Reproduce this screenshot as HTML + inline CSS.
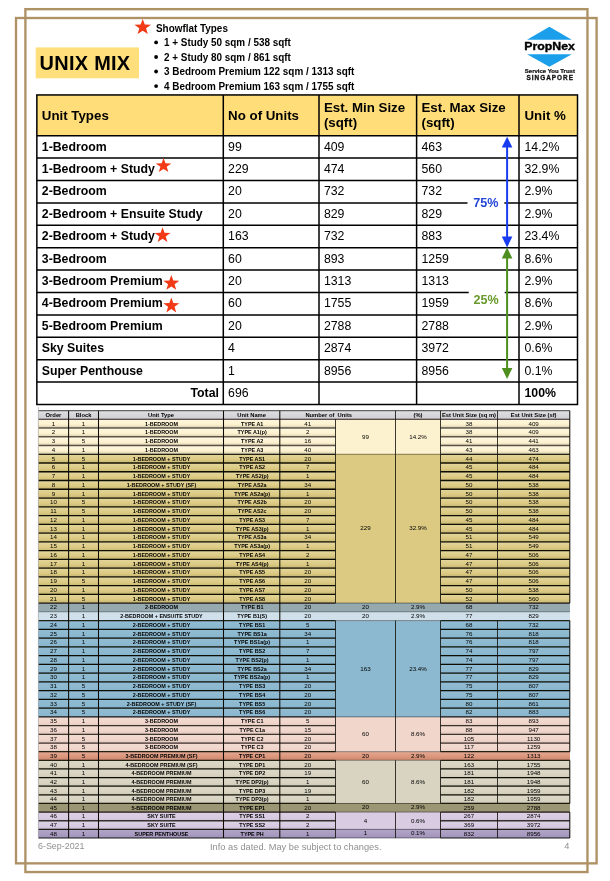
<!DOCTYPE html>
<html lang="en"><head><meta charset="utf-8"><title>Unix Mix</title>
<style>
html,body{margin:0;padding:0;background:#fff;}
body{width:610px;height:881px;position:relative;overflow:hidden;font-family:"Liberation Sans",sans-serif;color:#000;}
.a{position:absolute;white-space:nowrap;}
.fr{position:absolute;box-sizing:border-box;border:2.5px solid #ae9165;}
.b{font-weight:bold;}
.t1{position:absolute;white-space:nowrap;font-size:12.3px;line-height:14px;}
.th{position:absolute;white-space:nowrap;font-size:13.3px;line-height:15.3px;font-weight:bold;}
.bl{position:absolute;white-space:nowrap;font-size:10.5px;line-height:12px;font-weight:bold;transform:scaleX(0.943);transform-origin:0 50%;}
.c{position:absolute;white-space:nowrap;text-align:center;font-size:6.2px;line-height:8.73px;color:#000;}
.cb{font-weight:bold;font-size:5.85px;transform:scaleX(0.925);}
.ch{font-weight:bold;font-size:5.8px;}
.ft{position:absolute;white-space:nowrap;font-size:8.9px;line-height:11px;color:#8f8f8f;}
svg{position:absolute;left:0;top:0;}
</style></head><body>

<svg width="610" height="881" viewBox="0 0 610 881"><rect x="35.7" y="47.4" width="103.3" height="30.9" fill="#ffdf7c"/></svg>
<div class="a b" style="left:39.6px;top:51.3px;font-size:19.9px;letter-spacing:0.3px;line-height:24px">UNIX MIX</div>
<div class="bl" style="left:156.1px;top:21.7px">Showflat Types</div>
<div class="bl" style="left:164.4px;top:36.30px">1 + Study 50 sqm / 538 sqft</div>
<svg width="610" height="881" viewBox="0 0 610 881"><circle cx="156.1" cy="42.45" r="1.9" fill="#000"/></svg>
<div class="bl" style="left:164.4px;top:50.83px">2 + Study 80 sqm / 861 sqft</div>
<svg width="610" height="881" viewBox="0 0 610 881"><circle cx="156.1" cy="56.98" r="1.9" fill="#000"/></svg>
<div class="bl" style="left:164.4px;top:65.36px">3 Bedroom Premium 122 sqm / 1313 sqft</div>
<svg width="610" height="881" viewBox="0 0 610 881"><circle cx="156.1" cy="71.51" r="1.9" fill="#000"/></svg>
<div class="bl" style="left:164.4px;top:79.89px">4 Bedroom Premium 163 sqm / 1755 sqft</div>
<svg width="610" height="881" viewBox="0 0 610 881"><circle cx="156.1" cy="86.04" r="1.9" fill="#000"/></svg>
<div class="a" style="left:36.85px;top:94.95px;width:540.65px;height:40.75px;background:#ffde7a"></div>
<div class="th" style="left:41.8px;top:107.67px">Unit Types</div>
<div class="th" style="left:228.1px;top:107.67px">No of Units</div>
<div class="th" style="left:323.9px;top:99.60px">Est. Min Size<br>(sqft)</div>
<div class="th" style="left:421.5px;top:99.60px">Est. Max Size<br>(sqft)</div>
<div class="th" style="left:524.5px;top:107.67px">Unit %</div>
<div class="t1 b" style="left:41.8px;top:139.60px">1-Bedroom</div>
<div class="t1" style="left:228.1px;top:139.60px">99</div>
<div class="t1" style="left:323.9px;top:139.60px">409</div>
<div class="t1" style="left:421.5px;top:139.60px">463</div>
<div class="t1" style="left:524.5px;top:139.60px">14.2%</div>
<div class="t1 b" style="left:41.8px;top:162.00px">1-Bedroom + Study</div>
<div class="t1" style="left:228.1px;top:162.00px">229</div>
<div class="t1" style="left:323.9px;top:162.00px">474</div>
<div class="t1" style="left:421.5px;top:162.00px">560</div>
<div class="t1" style="left:524.5px;top:162.00px">32.9%</div>
<div class="t1 b" style="left:41.8px;top:184.40px">2-Bedroom</div>
<div class="t1" style="left:228.1px;top:184.40px">20</div>
<div class="t1" style="left:323.9px;top:184.40px">732</div>
<div class="t1" style="left:421.5px;top:184.40px">732</div>
<div class="t1" style="left:524.5px;top:184.40px">2.9%</div>
<div class="t1 b" style="left:41.8px;top:206.80px">2-Bedroom + Ensuite Study</div>
<div class="t1" style="left:228.1px;top:206.80px">20</div>
<div class="t1" style="left:323.9px;top:206.80px">829</div>
<div class="t1" style="left:421.5px;top:206.80px">829</div>
<div class="t1" style="left:524.5px;top:206.80px">2.9%</div>
<div class="t1 b" style="left:41.8px;top:229.20px">2-Bedroom + Study</div>
<div class="t1" style="left:228.1px;top:229.20px">163</div>
<div class="t1" style="left:323.9px;top:229.20px">732</div>
<div class="t1" style="left:421.5px;top:229.20px">883</div>
<div class="t1" style="left:524.5px;top:229.20px">23.4%</div>
<div class="t1 b" style="left:41.8px;top:251.60px">3-Bedroom</div>
<div class="t1" style="left:228.1px;top:251.60px">60</div>
<div class="t1" style="left:323.9px;top:251.60px">893</div>
<div class="t1" style="left:421.5px;top:251.60px">1259</div>
<div class="t1" style="left:524.5px;top:251.60px">8.6%</div>
<div class="t1 b" style="left:41.8px;top:274.00px">3-Bedroom Premium</div>
<div class="t1" style="left:228.1px;top:274.00px">20</div>
<div class="t1" style="left:323.9px;top:274.00px">1313</div>
<div class="t1" style="left:421.5px;top:274.00px">1313</div>
<div class="t1" style="left:524.5px;top:274.00px">2.9%</div>
<div class="t1 b" style="left:41.8px;top:296.40px">4-Bedroom Premium</div>
<div class="t1" style="left:228.1px;top:296.40px">60</div>
<div class="t1" style="left:323.9px;top:296.40px">1755</div>
<div class="t1" style="left:421.5px;top:296.40px">1959</div>
<div class="t1" style="left:524.5px;top:296.40px">8.6%</div>
<div class="t1 b" style="left:41.8px;top:318.80px">5-Bedroom Premium</div>
<div class="t1" style="left:228.1px;top:318.80px">20</div>
<div class="t1" style="left:323.9px;top:318.80px">2788</div>
<div class="t1" style="left:421.5px;top:318.80px">2788</div>
<div class="t1" style="left:524.5px;top:318.80px">2.9%</div>
<div class="t1 b" style="left:41.8px;top:341.20px">Sky Suites</div>
<div class="t1" style="left:228.1px;top:341.20px">4</div>
<div class="t1" style="left:323.9px;top:341.20px">2874</div>
<div class="t1" style="left:421.5px;top:341.20px">3972</div>
<div class="t1" style="left:524.5px;top:341.20px">0.6%</div>
<div class="t1 b" style="left:41.8px;top:363.60px">Super Penthouse</div>
<div class="t1" style="left:228.1px;top:363.60px">1</div>
<div class="t1" style="left:323.9px;top:363.60px">8956</div>
<div class="t1" style="left:421.5px;top:363.60px">8956</div>
<div class="t1" style="left:524.5px;top:363.60px">0.1%</div>
<div class="t1 b" style="left:36.9px;top:386.00px;width:182.0px;text-align:right">Total</div>
<div class="t1" style="left:228.1px;top:386.00px">696</div>
<div class="t1 b" style="left:524.5px;top:386.00px">100%</div>
<div class="a" style="left:38.40px;top:410.70px;width:531.40px;height:8.54px;background:linear-gradient(#dedee1,#d0d0d4)"></div>
<div class="a" style="left:38.40px;top:419.24px;width:531.40px;height:35.07px;background:#fdf2cf"></div>
<div class="a" style="left:38.40px;top:419.24px;width:297.10px;height:8.80px;background:linear-gradient(#fef7e0,#fdf2cf 60%,#d5ccae)"></div>
<div class="a" style="left:440.50px;top:419.24px;width:129.30px;height:8.80px;background:linear-gradient(#fef7e0,#fdf2cf 60%,#d5ccae)"></div>
<div class="a" style="left:38.40px;top:427.99px;width:297.10px;height:8.80px;background:linear-gradient(#fef7e0,#fdf2cf 60%,#d5ccae)"></div>
<div class="a" style="left:440.50px;top:427.99px;width:129.30px;height:8.80px;background:linear-gradient(#fef7e0,#fdf2cf 60%,#d5ccae)"></div>
<div class="a" style="left:38.40px;top:436.75px;width:297.10px;height:8.80px;background:linear-gradient(#fef7e0,#fdf2cf 60%,#d5ccae)"></div>
<div class="a" style="left:440.50px;top:436.75px;width:129.30px;height:8.80px;background:linear-gradient(#fef7e0,#fdf2cf 60%,#d5ccae)"></div>
<div class="a" style="left:38.40px;top:445.50px;width:297.10px;height:8.80px;background:linear-gradient(#fef7e0,#fdf2cf 60%,#d5ccae)"></div>
<div class="a" style="left:440.50px;top:445.50px;width:129.30px;height:8.80px;background:linear-gradient(#fef7e0,#fdf2cf 60%,#d5ccae)"></div>
<div class="a" style="left:38.40px;top:454.26px;width:531.40px;height:148.87px;background:#dcca82"></div>
<div class="a" style="left:38.40px;top:454.26px;width:297.10px;height:8.80px;background:linear-gradient(#e4d69e,#dcca82 60%,#c6b675)"></div>
<div class="a" style="left:440.50px;top:454.26px;width:129.30px;height:8.80px;background:linear-gradient(#e4d69e,#dcca82 60%,#c6b675)"></div>
<div class="a" style="left:38.40px;top:463.01px;width:297.10px;height:8.80px;background:linear-gradient(#e4d69e,#dcca82 60%,#c6b675)"></div>
<div class="a" style="left:440.50px;top:463.01px;width:129.30px;height:8.80px;background:linear-gradient(#e4d69e,#dcca82 60%,#c6b675)"></div>
<div class="a" style="left:38.40px;top:471.76px;width:297.10px;height:8.80px;background:linear-gradient(#e4d69e,#dcca82 60%,#c6b675)"></div>
<div class="a" style="left:440.50px;top:471.76px;width:129.30px;height:8.80px;background:linear-gradient(#e4d69e,#dcca82 60%,#c6b675)"></div>
<div class="a" style="left:38.40px;top:480.52px;width:297.10px;height:8.80px;background:linear-gradient(#e4d69e,#dcca82 60%,#c6b675)"></div>
<div class="a" style="left:440.50px;top:480.52px;width:129.30px;height:8.80px;background:linear-gradient(#e4d69e,#dcca82 60%,#c6b675)"></div>
<div class="a" style="left:38.40px;top:489.27px;width:297.10px;height:8.80px;background:linear-gradient(#e4d69e,#dcca82 60%,#c6b675)"></div>
<div class="a" style="left:440.50px;top:489.27px;width:129.30px;height:8.80px;background:linear-gradient(#e4d69e,#dcca82 60%,#c6b675)"></div>
<div class="a" style="left:38.40px;top:498.03px;width:297.10px;height:8.80px;background:linear-gradient(#e4d69e,#dcca82 60%,#c6b675)"></div>
<div class="a" style="left:440.50px;top:498.03px;width:129.30px;height:8.80px;background:linear-gradient(#e4d69e,#dcca82 60%,#c6b675)"></div>
<div class="a" style="left:38.40px;top:506.78px;width:297.10px;height:8.80px;background:linear-gradient(#e4d69e,#dcca82 60%,#c6b675)"></div>
<div class="a" style="left:440.50px;top:506.78px;width:129.30px;height:8.80px;background:linear-gradient(#e4d69e,#dcca82 60%,#c6b675)"></div>
<div class="a" style="left:38.40px;top:515.53px;width:297.10px;height:8.80px;background:linear-gradient(#e4d69e,#dcca82 60%,#c6b675)"></div>
<div class="a" style="left:440.50px;top:515.53px;width:129.30px;height:8.80px;background:linear-gradient(#e4d69e,#dcca82 60%,#c6b675)"></div>
<div class="a" style="left:38.40px;top:524.29px;width:297.10px;height:8.80px;background:linear-gradient(#e4d69e,#dcca82 60%,#c6b675)"></div>
<div class="a" style="left:440.50px;top:524.29px;width:129.30px;height:8.80px;background:linear-gradient(#e4d69e,#dcca82 60%,#c6b675)"></div>
<div class="a" style="left:38.40px;top:533.04px;width:297.10px;height:8.80px;background:linear-gradient(#e4d69e,#dcca82 60%,#c6b675)"></div>
<div class="a" style="left:440.50px;top:533.04px;width:129.30px;height:8.80px;background:linear-gradient(#e4d69e,#dcca82 60%,#c6b675)"></div>
<div class="a" style="left:38.40px;top:541.80px;width:297.10px;height:8.80px;background:linear-gradient(#e4d69e,#dcca82 60%,#c6b675)"></div>
<div class="a" style="left:440.50px;top:541.80px;width:129.30px;height:8.80px;background:linear-gradient(#e4d69e,#dcca82 60%,#c6b675)"></div>
<div class="a" style="left:38.40px;top:550.55px;width:297.10px;height:8.80px;background:linear-gradient(#e4d69e,#dcca82 60%,#c6b675)"></div>
<div class="a" style="left:440.50px;top:550.55px;width:129.30px;height:8.80px;background:linear-gradient(#e4d69e,#dcca82 60%,#c6b675)"></div>
<div class="a" style="left:38.40px;top:559.30px;width:297.10px;height:8.80px;background:linear-gradient(#e4d69e,#dcca82 60%,#c6b675)"></div>
<div class="a" style="left:440.50px;top:559.30px;width:129.30px;height:8.80px;background:linear-gradient(#e4d69e,#dcca82 60%,#c6b675)"></div>
<div class="a" style="left:38.40px;top:568.06px;width:297.10px;height:8.80px;background:linear-gradient(#e4d69e,#dcca82 60%,#c6b675)"></div>
<div class="a" style="left:440.50px;top:568.06px;width:129.30px;height:8.80px;background:linear-gradient(#e4d69e,#dcca82 60%,#c6b675)"></div>
<div class="a" style="left:38.40px;top:576.81px;width:297.10px;height:8.80px;background:linear-gradient(#e4d69e,#dcca82 60%,#c6b675)"></div>
<div class="a" style="left:440.50px;top:576.81px;width:129.30px;height:8.80px;background:linear-gradient(#e4d69e,#dcca82 60%,#c6b675)"></div>
<div class="a" style="left:38.40px;top:585.57px;width:297.10px;height:8.80px;background:linear-gradient(#e4d69e,#dcca82 60%,#c6b675)"></div>
<div class="a" style="left:440.50px;top:585.57px;width:129.30px;height:8.80px;background:linear-gradient(#e4d69e,#dcca82 60%,#c6b675)"></div>
<div class="a" style="left:38.40px;top:594.32px;width:297.10px;height:8.80px;background:linear-gradient(#e4d69e,#dcca82 60%,#c6b675)"></div>
<div class="a" style="left:440.50px;top:594.32px;width:129.30px;height:8.80px;background:linear-gradient(#e4d69e,#dcca82 60%,#c6b675)"></div>
<div class="a" style="left:38.40px;top:603.07px;width:531.40px;height:8.80px;background:#95a9ae"></div>
<div class="a" style="left:38.40px;top:611.83px;width:531.40px;height:8.80px;background:#cfe0ea"></div>
<div class="a" style="left:38.40px;top:620.58px;width:531.40px;height:96.34px;background:#8cb9d0"></div>
<div class="a" style="left:38.40px;top:620.58px;width:297.10px;height:8.80px;background:linear-gradient(#92bcd2,#8cb9d0 60%,#89b5cb)"></div>
<div class="a" style="left:440.50px;top:620.58px;width:129.30px;height:8.80px;background:linear-gradient(#92bcd2,#8cb9d0 60%,#89b5cb)"></div>
<div class="a" style="left:38.40px;top:629.34px;width:297.10px;height:8.80px;background:linear-gradient(#92bcd2,#8cb9d0 60%,#89b5cb)"></div>
<div class="a" style="left:440.50px;top:629.34px;width:129.30px;height:8.80px;background:linear-gradient(#92bcd2,#8cb9d0 60%,#89b5cb)"></div>
<div class="a" style="left:38.40px;top:638.09px;width:297.10px;height:8.80px;background:linear-gradient(#92bcd2,#8cb9d0 60%,#89b5cb)"></div>
<div class="a" style="left:440.50px;top:638.09px;width:129.30px;height:8.80px;background:linear-gradient(#92bcd2,#8cb9d0 60%,#89b5cb)"></div>
<div class="a" style="left:38.40px;top:646.84px;width:297.10px;height:8.80px;background:linear-gradient(#92bcd2,#8cb9d0 60%,#89b5cb)"></div>
<div class="a" style="left:440.50px;top:646.84px;width:129.30px;height:8.80px;background:linear-gradient(#92bcd2,#8cb9d0 60%,#89b5cb)"></div>
<div class="a" style="left:38.40px;top:655.60px;width:297.10px;height:8.80px;background:linear-gradient(#92bcd2,#8cb9d0 60%,#89b5cb)"></div>
<div class="a" style="left:440.50px;top:655.60px;width:129.30px;height:8.80px;background:linear-gradient(#92bcd2,#8cb9d0 60%,#89b5cb)"></div>
<div class="a" style="left:38.40px;top:664.35px;width:297.10px;height:8.80px;background:linear-gradient(#92bcd2,#8cb9d0 60%,#89b5cb)"></div>
<div class="a" style="left:440.50px;top:664.35px;width:129.30px;height:8.80px;background:linear-gradient(#92bcd2,#8cb9d0 60%,#89b5cb)"></div>
<div class="a" style="left:38.40px;top:673.11px;width:297.10px;height:8.80px;background:linear-gradient(#92bcd2,#8cb9d0 60%,#89b5cb)"></div>
<div class="a" style="left:440.50px;top:673.11px;width:129.30px;height:8.80px;background:linear-gradient(#92bcd2,#8cb9d0 60%,#89b5cb)"></div>
<div class="a" style="left:38.40px;top:681.86px;width:297.10px;height:8.80px;background:linear-gradient(#92bcd2,#8cb9d0 60%,#89b5cb)"></div>
<div class="a" style="left:440.50px;top:681.86px;width:129.30px;height:8.80px;background:linear-gradient(#92bcd2,#8cb9d0 60%,#89b5cb)"></div>
<div class="a" style="left:38.40px;top:690.61px;width:297.10px;height:8.80px;background:linear-gradient(#92bcd2,#8cb9d0 60%,#89b5cb)"></div>
<div class="a" style="left:440.50px;top:690.61px;width:129.30px;height:8.80px;background:linear-gradient(#92bcd2,#8cb9d0 60%,#89b5cb)"></div>
<div class="a" style="left:38.40px;top:699.37px;width:297.10px;height:8.80px;background:linear-gradient(#92bcd2,#8cb9d0 60%,#89b5cb)"></div>
<div class="a" style="left:440.50px;top:699.37px;width:129.30px;height:8.80px;background:linear-gradient(#92bcd2,#8cb9d0 60%,#89b5cb)"></div>
<div class="a" style="left:38.40px;top:708.12px;width:297.10px;height:8.80px;background:linear-gradient(#92bcd2,#8cb9d0 60%,#89b5cb)"></div>
<div class="a" style="left:440.50px;top:708.12px;width:129.30px;height:8.80px;background:linear-gradient(#92bcd2,#8cb9d0 60%,#89b5cb)"></div>
<div class="a" style="left:38.40px;top:716.88px;width:531.40px;height:34.84px;background:#f1d6cc"></div>
<div class="a" style="left:38.40px;top:716.88px;width:297.10px;height:8.80px;background:linear-gradient(#f3dbd2,#f1d6cc 60%,#e4cac1)"></div>
<div class="a" style="left:440.50px;top:716.88px;width:129.30px;height:8.80px;background:linear-gradient(#f3dbd2,#f1d6cc 60%,#e4cac1)"></div>
<div class="a" style="left:38.40px;top:725.63px;width:297.10px;height:8.80px;background:linear-gradient(#f3dbd2,#f1d6cc 60%,#e4cac1)"></div>
<div class="a" style="left:440.50px;top:725.63px;width:129.30px;height:8.80px;background:linear-gradient(#f3dbd2,#f1d6cc 60%,#e4cac1)"></div>
<div class="a" style="left:38.40px;top:734.38px;width:297.10px;height:8.70px;background:linear-gradient(#f3dbd2,#f1d6cc 60%,#e4cac1)"></div>
<div class="a" style="left:440.50px;top:734.38px;width:129.30px;height:8.70px;background:linear-gradient(#f3dbd2,#f1d6cc 60%,#e4cac1)"></div>
<div class="a" style="left:38.40px;top:743.03px;width:297.10px;height:8.68px;background:linear-gradient(#f3dbd2,#f1d6cc 60%,#e4cac1)"></div>
<div class="a" style="left:440.50px;top:743.03px;width:129.30px;height:8.68px;background:linear-gradient(#f3dbd2,#f1d6cc 60%,#e4cac1)"></div>
<div class="a" style="left:38.40px;top:751.67px;width:531.40px;height:8.68px;background:#dc957a"></div>
<div class="a" style="left:38.40px;top:751.67px;width:531.40px;height:8.68px;background:linear-gradient(#e2a892,#dc957a 60%,#ca8970)"></div>
<div class="a" style="left:38.40px;top:760.30px;width:531.40px;height:43.21px;background:#d9d4c1"></div>
<div class="a" style="left:38.40px;top:760.30px;width:297.10px;height:8.68px;background:linear-gradient(#ded9c8,#d9d4c1 60%,#cdc9b7)"></div>
<div class="a" style="left:440.50px;top:760.30px;width:129.30px;height:8.68px;background:linear-gradient(#ded9c8,#d9d4c1 60%,#cdc9b7)"></div>
<div class="a" style="left:38.40px;top:768.93px;width:297.10px;height:8.68px;background:linear-gradient(#ded9c8,#d9d4c1 60%,#cdc9b7)"></div>
<div class="a" style="left:440.50px;top:768.93px;width:129.30px;height:8.68px;background:linear-gradient(#ded9c8,#d9d4c1 60%,#cdc9b7)"></div>
<div class="a" style="left:38.40px;top:777.56px;width:297.10px;height:8.68px;background:linear-gradient(#ded9c8,#d9d4c1 60%,#cdc9b7)"></div>
<div class="a" style="left:440.50px;top:777.56px;width:129.30px;height:8.68px;background:linear-gradient(#ded9c8,#d9d4c1 60%,#cdc9b7)"></div>
<div class="a" style="left:38.40px;top:786.20px;width:297.10px;height:8.68px;background:linear-gradient(#ded9c8,#d9d4c1 60%,#cdc9b7)"></div>
<div class="a" style="left:440.50px;top:786.20px;width:129.30px;height:8.68px;background:linear-gradient(#ded9c8,#d9d4c1 60%,#cdc9b7)"></div>
<div class="a" style="left:38.40px;top:794.83px;width:297.10px;height:8.68px;background:linear-gradient(#ded9c8,#d9d4c1 60%,#cdc9b7)"></div>
<div class="a" style="left:440.50px;top:794.83px;width:129.30px;height:8.68px;background:linear-gradient(#ded9c8,#d9d4c1 60%,#cdc9b7)"></div>
<div class="a" style="left:38.40px;top:803.46px;width:531.40px;height:8.68px;background:#9b9673"></div>
<div class="a" style="left:38.40px;top:812.10px;width:531.40px;height:17.32px;background:#d8cbe2"></div>
<div class="a" style="left:38.40px;top:812.10px;width:297.10px;height:8.68px;background:linear-gradient(#ddd1e5,#d8cbe2 60%,#ccc0d6)"></div>
<div class="a" style="left:440.50px;top:812.10px;width:129.30px;height:8.68px;background:linear-gradient(#ddd1e5,#d8cbe2 60%,#ccc0d6)"></div>
<div class="a" style="left:38.40px;top:820.73px;width:297.10px;height:8.68px;background:linear-gradient(#ddd1e5,#d8cbe2 60%,#ccc0d6)"></div>
<div class="a" style="left:440.50px;top:820.73px;width:129.30px;height:8.68px;background:linear-gradient(#ddd1e5,#d8cbe2 60%,#ccc0d6)"></div>
<div class="a" style="left:38.40px;top:829.36px;width:531.40px;height:8.68px;background:#a99bc1"></div>
<div class="a" style="left:38.40px;top:829.36px;width:531.40px;height:8.68px;background:linear-gradient(#b3a7c8,#a99bc1 60%,#a093b7)"></div>
<svg width="610" height="881" viewBox="0 0 610 881">
<rect x="16.0" y="18.0" width="580.60" height="845.35" fill="none" stroke="#ae9165" stroke-width="2.35"/>
<rect x="25.4" y="9.15" width="562.05" height="862.90" fill="none" stroke="#ae9165" stroke-width="2.35"/>
<g stroke="#000" stroke-width="1.5" fill="none">
<rect x="36.85" y="94.95" width="540.65" height="309.55"/>
<line x1="223.30" y1="94.95" x2="223.30" y2="404.50"/>
<line x1="319.00" y1="94.95" x2="319.00" y2="404.50"/>
<line x1="416.60" y1="94.95" x2="416.60" y2="404.50"/>
<line x1="519.00" y1="94.95" x2="519.00" y2="404.50"/>
<line x1="36.85" y1="135.70" x2="577.50" y2="135.70"/>
<line x1="36.85" y1="158.10" x2="577.50" y2="158.10"/>
<line x1="36.85" y1="180.50" x2="577.50" y2="180.50"/>
<line x1="36.85" y1="202.90" x2="577.50" y2="202.90"/>
<line x1="36.85" y1="225.30" x2="577.50" y2="225.30"/>
<line x1="36.85" y1="247.70" x2="577.50" y2="247.70"/>
<line x1="36.85" y1="270.10" x2="577.50" y2="270.10"/>
<line x1="36.85" y1="292.50" x2="577.50" y2="292.50"/>
<line x1="36.85" y1="314.90" x2="577.50" y2="314.90"/>
<line x1="36.85" y1="337.30" x2="577.50" y2="337.30"/>
<line x1="36.85" y1="359.70" x2="577.50" y2="359.70"/>
<line x1="36.85" y1="382.10" x2="577.50" y2="382.10"/>
</g>
<rect x="467.5" y="192.5" width="36.8" height="19" fill="#fff"/>
<rect x="468.7" y="289.3" width="36" height="19.6" fill="#fff"/>
<line x1="507.10" y1="146.50" x2="507.10" y2="237.60" stroke="#1a3cf0" stroke-width="2"/>
<polygon points="507.10,136.70 501.80,147.50 512.40,147.50" fill="#1a3cf0"/>
<polygon points="507.10,247.40 501.80,236.60 512.40,236.60" fill="#1a3cf0"/>
<line x1="507.10" y1="257.40" x2="507.10" y2="369.10" stroke="#4f8f1f" stroke-width="2"/>
<polygon points="507.10,247.60 501.80,258.40 512.40,258.40" fill="#4f8f1f"/>
<polygon points="507.10,378.90 501.80,368.10 512.40,368.10" fill="#4f8f1f"/>
<polygon points="142.70,18.90 144.78,24.51 151.00,24.67 146.06,28.29 147.83,34.00 142.70,30.63 137.57,34.00 139.34,28.29 134.40,24.67 140.62,24.51" fill="#f23a17"/>
<polygon points="163.55,158.00 165.49,163.24 171.30,163.39 166.69,166.77 168.34,172.10 163.55,168.95 158.76,172.10 160.41,166.77 155.80,163.39 161.61,163.24" fill="#f23a17"/>
<polygon points="162.55,227.20 164.52,232.74 170.40,232.89 165.73,236.47 167.40,242.10 162.55,238.77 157.70,242.10 159.37,236.47 154.70,232.89 160.58,232.74" fill="#f23a17"/>
<polygon points="171.30,275.00 173.30,280.50 179.30,280.65 174.54,284.21 176.24,289.80 171.30,286.49 166.36,289.80 168.06,284.21 163.30,280.65 169.30,280.50" fill="#f23a17"/>
<polygon points="171.30,297.60 173.30,303.10 179.30,303.25 174.54,306.81 176.24,312.40 171.30,309.09 166.36,312.40 168.06,306.81 163.30,303.25 169.30,303.10" fill="#f23a17"/>
<polygon points="549.4,26.7 527,39.7 571.8,39.7" fill="#1c9fea"/>
<polygon points="549.4,66.8 527,54.2 571.8,54.2" fill="#1c9fea"/>
<text x="524.2" y="50.1" font-family="Liberation Sans, sans-serif" font-weight="bold" font-size="10.8" textLength="50.7" lengthAdjust="spacingAndGlyphs" fill="#000" stroke="#000" stroke-width="0.35">PropNex</text>
<text x="524.8" y="72.8" font-family="Liberation Sans, sans-serif" font-weight="bold" font-size="5.3" textLength="50.1" lengthAdjust="spacingAndGlyphs" fill="#111" stroke="#111" stroke-width="0.22">Service You Trust</text>
<text x="526.5" y="79.7" font-family="Liberation Sans, sans-serif" font-weight="bold" font-size="6.4" textLength="46.5" lengthAdjust="spacing" fill="#111" stroke="#111" stroke-width="0.3">SINGAPORE</text>
<defs><filter id="bl" filterUnits="userSpaceOnUse" x="0" y="400" width="610" height="460"><feGaussianBlur stdDeviation="0 0.45"/></filter></defs>
<g stroke="#0d0a04" fill="none" filter="url(#bl)" stroke-opacity="0.9">
<line x1="38.40" y1="410.70" x2="569.80" y2="410.70" stroke-width="1" stroke="#2a2a2a"/>
<line x1="38.40" y1="419.24" x2="569.80" y2="419.24" stroke-width="1.2"/>
<line x1="38.40" y1="427.99" x2="335.50" y2="427.99" stroke-width="1.3" stroke-opacity="0.62"/>
<line x1="440.50" y1="427.99" x2="569.80" y2="427.99" stroke-width="1.3" stroke-opacity="0.62"/>
<line x1="38.40" y1="436.75" x2="335.50" y2="436.75" stroke-width="1.3" stroke-opacity="0.62"/>
<line x1="440.50" y1="436.75" x2="569.80" y2="436.75" stroke-width="1.3" stroke-opacity="0.62"/>
<line x1="38.40" y1="445.50" x2="335.50" y2="445.50" stroke-width="1.3" stroke-opacity="0.62"/>
<line x1="440.50" y1="445.50" x2="569.80" y2="445.50" stroke-width="1.3" stroke-opacity="0.62"/>
<line x1="38.40" y1="454.26" x2="335.50" y2="454.26" stroke-width="1.25"/>
<line x1="440.50" y1="454.26" x2="569.80" y2="454.26" stroke-width="1.25"/>
<line x1="335.50" y1="454.26" x2="440.50" y2="454.26" stroke-width="0.7" stroke-opacity="0.6"/>
<line x1="38.40" y1="463.01" x2="335.50" y2="463.01" stroke-width="1.3" stroke-opacity="1.00"/>
<line x1="440.50" y1="463.01" x2="569.80" y2="463.01" stroke-width="1.3" stroke-opacity="1.00"/>
<line x1="38.40" y1="471.76" x2="335.50" y2="471.76" stroke-width="1.3" stroke-opacity="1.00"/>
<line x1="440.50" y1="471.76" x2="569.80" y2="471.76" stroke-width="1.3" stroke-opacity="1.00"/>
<line x1="38.40" y1="480.52" x2="335.50" y2="480.52" stroke-width="1.3" stroke-opacity="1.00"/>
<line x1="440.50" y1="480.52" x2="569.80" y2="480.52" stroke-width="1.3" stroke-opacity="1.00"/>
<line x1="38.40" y1="489.27" x2="335.50" y2="489.27" stroke-width="1.3" stroke-opacity="1.00"/>
<line x1="440.50" y1="489.27" x2="569.80" y2="489.27" stroke-width="1.3" stroke-opacity="1.00"/>
<line x1="38.40" y1="498.03" x2="335.50" y2="498.03" stroke-width="1.3" stroke-opacity="1.00"/>
<line x1="440.50" y1="498.03" x2="569.80" y2="498.03" stroke-width="1.3" stroke-opacity="1.00"/>
<line x1="38.40" y1="506.78" x2="335.50" y2="506.78" stroke-width="1.3" stroke-opacity="1.00"/>
<line x1="440.50" y1="506.78" x2="569.80" y2="506.78" stroke-width="1.3" stroke-opacity="1.00"/>
<line x1="38.40" y1="515.53" x2="335.50" y2="515.53" stroke-width="1.3" stroke-opacity="1.00"/>
<line x1="440.50" y1="515.53" x2="569.80" y2="515.53" stroke-width="1.3" stroke-opacity="1.00"/>
<line x1="38.40" y1="524.29" x2="335.50" y2="524.29" stroke-width="1.3" stroke-opacity="1.00"/>
<line x1="440.50" y1="524.29" x2="569.80" y2="524.29" stroke-width="1.3" stroke-opacity="1.00"/>
<line x1="38.40" y1="533.04" x2="335.50" y2="533.04" stroke-width="1.3" stroke-opacity="1.00"/>
<line x1="440.50" y1="533.04" x2="569.80" y2="533.04" stroke-width="1.3" stroke-opacity="1.00"/>
<line x1="38.40" y1="541.80" x2="335.50" y2="541.80" stroke-width="1.3" stroke-opacity="1.00"/>
<line x1="440.50" y1="541.80" x2="569.80" y2="541.80" stroke-width="1.3" stroke-opacity="1.00"/>
<line x1="38.40" y1="550.55" x2="335.50" y2="550.55" stroke-width="1.3" stroke-opacity="1.00"/>
<line x1="440.50" y1="550.55" x2="569.80" y2="550.55" stroke-width="1.3" stroke-opacity="1.00"/>
<line x1="38.40" y1="559.30" x2="335.50" y2="559.30" stroke-width="1.3" stroke-opacity="1.00"/>
<line x1="440.50" y1="559.30" x2="569.80" y2="559.30" stroke-width="1.3" stroke-opacity="1.00"/>
<line x1="38.40" y1="568.06" x2="335.50" y2="568.06" stroke-width="1.3" stroke-opacity="1.00"/>
<line x1="440.50" y1="568.06" x2="569.80" y2="568.06" stroke-width="1.3" stroke-opacity="1.00"/>
<line x1="38.40" y1="576.81" x2="335.50" y2="576.81" stroke-width="1.3" stroke-opacity="1.00"/>
<line x1="440.50" y1="576.81" x2="569.80" y2="576.81" stroke-width="1.3" stroke-opacity="1.00"/>
<line x1="38.40" y1="585.57" x2="335.50" y2="585.57" stroke-width="1.3" stroke-opacity="1.00"/>
<line x1="440.50" y1="585.57" x2="569.80" y2="585.57" stroke-width="1.3" stroke-opacity="1.00"/>
<line x1="38.40" y1="594.32" x2="335.50" y2="594.32" stroke-width="1.3" stroke-opacity="1.00"/>
<line x1="440.50" y1="594.32" x2="569.80" y2="594.32" stroke-width="1.3" stroke-opacity="1.00"/>
<line x1="38.40" y1="603.07" x2="335.50" y2="603.07" stroke-width="1.25"/>
<line x1="440.50" y1="603.07" x2="569.80" y2="603.07" stroke-width="1.25"/>
<line x1="335.50" y1="603.07" x2="440.50" y2="603.07" stroke-width="0.7" stroke-opacity="0.6"/>
<line x1="38.40" y1="611.83" x2="569.80" y2="611.83" stroke-width="0.7" stroke-opacity="0.45"/>
<line x1="38.40" y1="620.58" x2="335.50" y2="620.58" stroke-width="1.25"/>
<line x1="440.50" y1="620.58" x2="569.80" y2="620.58" stroke-width="1.25"/>
<line x1="335.50" y1="620.58" x2="440.50" y2="620.58" stroke-width="0.7" stroke-opacity="0.6"/>
<line x1="38.40" y1="629.34" x2="335.50" y2="629.34" stroke-width="1.3" stroke-opacity="1.00"/>
<line x1="440.50" y1="629.34" x2="569.80" y2="629.34" stroke-width="1.3" stroke-opacity="1.00"/>
<line x1="38.40" y1="638.09" x2="335.50" y2="638.09" stroke-width="1.3" stroke-opacity="1.00"/>
<line x1="440.50" y1="638.09" x2="569.80" y2="638.09" stroke-width="1.3" stroke-opacity="1.00"/>
<line x1="38.40" y1="646.84" x2="335.50" y2="646.84" stroke-width="1.3" stroke-opacity="1.00"/>
<line x1="440.50" y1="646.84" x2="569.80" y2="646.84" stroke-width="1.3" stroke-opacity="1.00"/>
<line x1="38.40" y1="655.60" x2="335.50" y2="655.60" stroke-width="1.3" stroke-opacity="1.00"/>
<line x1="440.50" y1="655.60" x2="569.80" y2="655.60" stroke-width="1.3" stroke-opacity="1.00"/>
<line x1="38.40" y1="664.35" x2="335.50" y2="664.35" stroke-width="1.3" stroke-opacity="1.00"/>
<line x1="440.50" y1="664.35" x2="569.80" y2="664.35" stroke-width="1.3" stroke-opacity="1.00"/>
<line x1="38.40" y1="673.11" x2="335.50" y2="673.11" stroke-width="1.3" stroke-opacity="1.00"/>
<line x1="440.50" y1="673.11" x2="569.80" y2="673.11" stroke-width="1.3" stroke-opacity="1.00"/>
<line x1="38.40" y1="681.86" x2="335.50" y2="681.86" stroke-width="1.3" stroke-opacity="1.00"/>
<line x1="440.50" y1="681.86" x2="569.80" y2="681.86" stroke-width="1.3" stroke-opacity="1.00"/>
<line x1="38.40" y1="690.61" x2="335.50" y2="690.61" stroke-width="1.3" stroke-opacity="1.00"/>
<line x1="440.50" y1="690.61" x2="569.80" y2="690.61" stroke-width="1.3" stroke-opacity="1.00"/>
<line x1="38.40" y1="699.37" x2="335.50" y2="699.37" stroke-width="1.3" stroke-opacity="1.00"/>
<line x1="440.50" y1="699.37" x2="569.80" y2="699.37" stroke-width="1.3" stroke-opacity="1.00"/>
<line x1="38.40" y1="708.12" x2="335.50" y2="708.12" stroke-width="1.3" stroke-opacity="1.00"/>
<line x1="440.50" y1="708.12" x2="569.80" y2="708.12" stroke-width="1.3" stroke-opacity="1.00"/>
<line x1="38.40" y1="716.88" x2="335.50" y2="716.88" stroke-width="1.25"/>
<line x1="440.50" y1="716.88" x2="569.80" y2="716.88" stroke-width="1.25"/>
<line x1="335.50" y1="716.88" x2="440.50" y2="716.88" stroke-width="0.7" stroke-opacity="0.6"/>
<line x1="38.40" y1="725.63" x2="335.50" y2="725.63" stroke-width="1.3" stroke-opacity="0.80"/>
<line x1="440.50" y1="725.63" x2="569.80" y2="725.63" stroke-width="1.3" stroke-opacity="0.80"/>
<line x1="38.40" y1="734.38" x2="335.50" y2="734.38" stroke-width="1.3" stroke-opacity="0.80"/>
<line x1="440.50" y1="734.38" x2="569.80" y2="734.38" stroke-width="1.3" stroke-opacity="0.80"/>
<line x1="38.40" y1="743.03" x2="335.50" y2="743.03" stroke-width="1.3" stroke-opacity="0.80"/>
<line x1="440.50" y1="743.03" x2="569.80" y2="743.03" stroke-width="1.3" stroke-opacity="0.80"/>
<line x1="38.40" y1="751.67" x2="335.50" y2="751.67" stroke-width="1.25"/>
<line x1="440.50" y1="751.67" x2="569.80" y2="751.67" stroke-width="1.25"/>
<line x1="335.50" y1="751.67" x2="440.50" y2="751.67" stroke-width="0.7" stroke-opacity="0.6"/>
<line x1="38.40" y1="760.30" x2="335.50" y2="760.30" stroke-width="1.25"/>
<line x1="440.50" y1="760.30" x2="569.80" y2="760.30" stroke-width="1.25"/>
<line x1="335.50" y1="760.30" x2="440.50" y2="760.30" stroke-width="0.7" stroke-opacity="0.6"/>
<line x1="38.40" y1="768.93" x2="335.50" y2="768.93" stroke-width="1.3" stroke-opacity="1.00"/>
<line x1="440.50" y1="768.93" x2="569.80" y2="768.93" stroke-width="1.3" stroke-opacity="1.00"/>
<line x1="38.40" y1="777.56" x2="335.50" y2="777.56" stroke-width="1.3" stroke-opacity="1.00"/>
<line x1="440.50" y1="777.56" x2="569.80" y2="777.56" stroke-width="1.3" stroke-opacity="1.00"/>
<line x1="38.40" y1="786.20" x2="335.50" y2="786.20" stroke-width="1.3" stroke-opacity="1.00"/>
<line x1="440.50" y1="786.20" x2="569.80" y2="786.20" stroke-width="1.3" stroke-opacity="1.00"/>
<line x1="38.40" y1="794.83" x2="335.50" y2="794.83" stroke-width="1.3" stroke-opacity="1.00"/>
<line x1="440.50" y1="794.83" x2="569.80" y2="794.83" stroke-width="1.3" stroke-opacity="1.00"/>
<line x1="38.40" y1="803.46" x2="335.50" y2="803.46" stroke-width="1.25"/>
<line x1="440.50" y1="803.46" x2="569.80" y2="803.46" stroke-width="1.25"/>
<line x1="335.50" y1="803.46" x2="440.50" y2="803.46" stroke-width="0.7" stroke-opacity="0.6"/>
<line x1="38.40" y1="812.10" x2="335.50" y2="812.10" stroke-width="1.25"/>
<line x1="440.50" y1="812.10" x2="569.80" y2="812.10" stroke-width="1.25"/>
<line x1="335.50" y1="812.10" x2="440.50" y2="812.10" stroke-width="0.7" stroke-opacity="0.6"/>
<line x1="38.40" y1="820.73" x2="335.50" y2="820.73" stroke-width="1.3" stroke-opacity="0.80"/>
<line x1="440.50" y1="820.73" x2="569.80" y2="820.73" stroke-width="1.3" stroke-opacity="0.80"/>
<line x1="38.40" y1="829.36" x2="335.50" y2="829.36" stroke-width="1.25"/>
<line x1="440.50" y1="829.36" x2="569.80" y2="829.36" stroke-width="1.25"/>
<line x1="335.50" y1="829.36" x2="440.50" y2="829.36" stroke-width="0.7" stroke-opacity="0.6"/>
<line x1="38.40" y1="838.00" x2="335.50" y2="838.00" stroke-width="1.00"/>
<line x1="440.50" y1="838.00" x2="569.80" y2="838.00" stroke-width="1.00"/>
<line x1="335.50" y1="838.00" x2="440.50" y2="838.00" stroke-width="0.7" stroke-opacity="0.6"/>
</g>
<g stroke="#0d0a04" fill="none">
<line x1="38.40" y1="407.20" x2="38.40" y2="838.00" stroke-width="0.7" stroke="#a8a8a8"/>
<line x1="68.60" y1="410.70" x2="68.60" y2="838.00" stroke-width="1.05"/>
<line x1="98.50" y1="410.70" x2="98.50" y2="838.00" stroke-width="1.05"/>
<line x1="223.50" y1="410.70" x2="223.50" y2="838.00" stroke-width="1.05"/>
<line x1="279.80" y1="410.70" x2="279.80" y2="838.00" stroke-width="1.05"/>
<line x1="395.50" y1="410.70" x2="395.50" y2="419.24" stroke-width="0.80"/>
<line x1="440.50" y1="410.70" x2="440.50" y2="419.24" stroke-width="0.80"/>
<line x1="497.50" y1="410.70" x2="497.50" y2="419.24" stroke-width="0.80"/>
<line x1="569.80" y1="410.70" x2="569.80" y2="419.24" stroke-width="1.00"/>
<line x1="335.50" y1="419.24" x2="335.50" y2="454.26" stroke-width="1.00" stroke-opacity="0.80"/>
<line x1="395.50" y1="419.24" x2="395.50" y2="454.26" stroke-width="1.00" stroke-opacity="0.80"/>
<line x1="440.50" y1="419.24" x2="440.50" y2="454.26" stroke-width="1.00" stroke-opacity="0.80"/>
<line x1="497.50" y1="419.24" x2="497.50" y2="454.26" stroke-width="1.00" stroke-opacity="0.80"/>
<line x1="569.80" y1="419.24" x2="569.80" y2="454.26" stroke-width="1.00" stroke-opacity="1.00"/>
<line x1="335.50" y1="454.26" x2="335.50" y2="603.07" stroke-width="1.00" stroke-opacity="0.80"/>
<line x1="395.50" y1="454.26" x2="395.50" y2="603.07" stroke-width="1.00" stroke-opacity="0.80"/>
<line x1="440.50" y1="454.26" x2="440.50" y2="603.07" stroke-width="1.00" stroke-opacity="0.80"/>
<line x1="497.50" y1="454.26" x2="497.50" y2="603.07" stroke-width="1.00" stroke-opacity="0.80"/>
<line x1="569.80" y1="454.26" x2="569.80" y2="603.07" stroke-width="1.00" stroke-opacity="1.00"/>
<line x1="335.50" y1="620.58" x2="335.50" y2="716.88" stroke-width="1.00" stroke-opacity="0.80"/>
<line x1="395.50" y1="620.58" x2="395.50" y2="716.88" stroke-width="1.00" stroke-opacity="0.80"/>
<line x1="440.50" y1="620.58" x2="440.50" y2="716.88" stroke-width="1.00" stroke-opacity="0.80"/>
<line x1="497.50" y1="620.58" x2="497.50" y2="716.88" stroke-width="1.00" stroke-opacity="0.80"/>
<line x1="569.80" y1="620.58" x2="569.80" y2="716.88" stroke-width="1.00" stroke-opacity="1.00"/>
<line x1="335.50" y1="716.88" x2="335.50" y2="751.67" stroke-width="1.00" stroke-opacity="0.80"/>
<line x1="395.50" y1="716.88" x2="395.50" y2="751.67" stroke-width="1.00" stroke-opacity="0.80"/>
<line x1="440.50" y1="716.88" x2="440.50" y2="751.67" stroke-width="1.00" stroke-opacity="0.80"/>
<line x1="497.50" y1="716.88" x2="497.50" y2="751.67" stroke-width="1.00" stroke-opacity="0.80"/>
<line x1="569.80" y1="716.88" x2="569.80" y2="751.67" stroke-width="1.00" stroke-opacity="1.00"/>
<line x1="335.50" y1="760.30" x2="335.50" y2="803.46" stroke-width="1.00" stroke-opacity="0.80"/>
<line x1="395.50" y1="760.30" x2="395.50" y2="803.46" stroke-width="1.00" stroke-opacity="0.80"/>
<line x1="440.50" y1="760.30" x2="440.50" y2="803.46" stroke-width="1.00" stroke-opacity="0.80"/>
<line x1="497.50" y1="760.30" x2="497.50" y2="803.46" stroke-width="1.00" stroke-opacity="0.80"/>
<line x1="569.80" y1="760.30" x2="569.80" y2="803.46" stroke-width="1.00" stroke-opacity="1.00"/>
<line x1="335.50" y1="812.10" x2="335.50" y2="829.36" stroke-width="1.00" stroke-opacity="0.80"/>
<line x1="395.50" y1="812.10" x2="395.50" y2="829.36" stroke-width="1.00" stroke-opacity="0.80"/>
<line x1="440.50" y1="812.10" x2="440.50" y2="829.36" stroke-width="1.00" stroke-opacity="0.80"/>
<line x1="497.50" y1="812.10" x2="497.50" y2="829.36" stroke-width="1.00" stroke-opacity="0.80"/>
<line x1="569.80" y1="812.10" x2="569.80" y2="829.36" stroke-width="1.00" stroke-opacity="1.00"/>
<line x1="335.50" y1="829.36" x2="335.50" y2="838.00" stroke-width="1.00" stroke-opacity="0.80"/>
<line x1="395.50" y1="829.36" x2="395.50" y2="838.00" stroke-width="1.00" stroke-opacity="0.80"/>
<line x1="440.50" y1="829.36" x2="440.50" y2="838.00" stroke-width="1.00" stroke-opacity="0.80"/>
<line x1="497.50" y1="829.36" x2="497.50" y2="838.00" stroke-width="1.00" stroke-opacity="0.80"/>
<line x1="569.80" y1="829.36" x2="569.80" y2="838.00" stroke-width="1.00" stroke-opacity="1.00"/>
</g>
</svg>
<div class="a b" style="left:473.3px;top:195.6px;font-size:12.6px;line-height:14px;color:#2447d8">75%</div>
<div class="a b" style="left:473.4px;top:293.0px;font-size:12.6px;line-height:14px;color:#6a9a2e">25%</div>
<div class="c ch" style="left:38.40px;top:410.90px;width:30.20px;height:8.54px;line-height:8.54px">Order</div>
<div class="c ch" style="left:68.60px;top:410.90px;width:29.90px;height:8.54px;line-height:8.54px">Block</div>
<div class="c ch" style="left:98.50px;top:410.90px;width:125.00px;height:8.54px;line-height:8.54px">Unit Type</div>
<div class="c ch" style="left:223.50px;top:410.90px;width:56.30px;height:8.54px;line-height:8.54px">Unit Name</div>
<div class="c ch" style="left:270.90px;top:410.90px;width:115.70px;height:8.54px;line-height:8.54px">Number of&nbsp; Units</div>
<div class="c ch" style="left:395.50px;top:410.90px;width:45.00px;height:8.54px;line-height:8.54px">(%)</div>
<div class="c ch" style="left:440.50px;top:410.90px;width:57.00px;height:8.54px;line-height:8.54px">Est Unit Size (sq m)</div>
<div class="c ch" style="left:497.50px;top:410.90px;width:72.30px;height:8.54px;line-height:8.54px">Est Unit Size (sf)</div>
<div class="c" style="left:38.40px;top:419.59px;width:30.20px;height:8.75px;line-height:8.75px">1</div>
<div class="c" style="left:68.60px;top:419.59px;width:29.90px;height:8.75px;line-height:8.75px">1</div>
<div class="c cb" style="left:98.50px;top:419.59px;width:125.00px;height:8.75px;line-height:8.75px">1-BEDROOM</div>
<div class="c cb" style="left:223.50px;top:419.59px;width:56.30px;height:8.75px;line-height:8.75px">TYPE A1</div>
<div class="c" style="left:279.80px;top:419.59px;width:55.70px;height:8.75px;line-height:8.75px">41</div>
<div class="c" style="left:440.50px;top:419.59px;width:57.00px;height:8.75px;line-height:8.75px">38</div>
<div class="c" style="left:497.50px;top:419.59px;width:72.30px;height:8.75px;line-height:8.75px">409</div>
<div class="c" style="left:38.40px;top:428.34px;width:30.20px;height:8.75px;line-height:8.75px">2</div>
<div class="c" style="left:68.60px;top:428.34px;width:29.90px;height:8.75px;line-height:8.75px">1</div>
<div class="c cb" style="left:98.50px;top:428.34px;width:125.00px;height:8.75px;line-height:8.75px">1-BEDROOM</div>
<div class="c cb" style="left:223.50px;top:428.34px;width:56.30px;height:8.75px;line-height:8.75px">TYPE A1(p)</div>
<div class="c" style="left:279.80px;top:428.34px;width:55.70px;height:8.75px;line-height:8.75px">2</div>
<div class="c" style="left:440.50px;top:428.34px;width:57.00px;height:8.75px;line-height:8.75px">38</div>
<div class="c" style="left:497.50px;top:428.34px;width:72.30px;height:8.75px;line-height:8.75px">409</div>
<div class="c" style="left:38.40px;top:437.10px;width:30.20px;height:8.75px;line-height:8.75px">3</div>
<div class="c" style="left:68.60px;top:437.10px;width:29.90px;height:8.75px;line-height:8.75px">5</div>
<div class="c cb" style="left:98.50px;top:437.10px;width:125.00px;height:8.75px;line-height:8.75px">1-BEDROOM</div>
<div class="c cb" style="left:223.50px;top:437.10px;width:56.30px;height:8.75px;line-height:8.75px">TYPE A2</div>
<div class="c" style="left:279.80px;top:437.10px;width:55.70px;height:8.75px;line-height:8.75px">16</div>
<div class="c" style="left:440.50px;top:437.10px;width:57.00px;height:8.75px;line-height:8.75px">41</div>
<div class="c" style="left:497.50px;top:437.10px;width:72.30px;height:8.75px;line-height:8.75px">441</div>
<div class="c" style="left:38.40px;top:445.85px;width:30.20px;height:8.75px;line-height:8.75px">4</div>
<div class="c" style="left:68.60px;top:445.85px;width:29.90px;height:8.75px;line-height:8.75px">1</div>
<div class="c cb" style="left:98.50px;top:445.85px;width:125.00px;height:8.75px;line-height:8.75px">1-BEDROOM</div>
<div class="c cb" style="left:223.50px;top:445.85px;width:56.30px;height:8.75px;line-height:8.75px">TYPE A3</div>
<div class="c" style="left:279.80px;top:445.85px;width:55.70px;height:8.75px;line-height:8.75px">40</div>
<div class="c" style="left:440.50px;top:445.85px;width:57.00px;height:8.75px;line-height:8.75px">43</div>
<div class="c" style="left:497.50px;top:445.85px;width:72.30px;height:8.75px;line-height:8.75px">463</div>
<div class="c" style="left:38.40px;top:454.61px;width:30.20px;height:8.75px;line-height:8.75px">5</div>
<div class="c" style="left:68.60px;top:454.61px;width:29.90px;height:8.75px;line-height:8.75px">5</div>
<div class="c cb" style="left:98.50px;top:454.61px;width:125.00px;height:8.75px;line-height:8.75px">1-BEDROOM + STUDY</div>
<div class="c cb" style="left:223.50px;top:454.61px;width:56.30px;height:8.75px;line-height:8.75px">TYPE AS1</div>
<div class="c" style="left:279.80px;top:454.61px;width:55.70px;height:8.75px;line-height:8.75px">20</div>
<div class="c" style="left:440.50px;top:454.61px;width:57.00px;height:8.75px;line-height:8.75px">44</div>
<div class="c" style="left:497.50px;top:454.61px;width:72.30px;height:8.75px;line-height:8.75px">474</div>
<div class="c" style="left:38.40px;top:463.36px;width:30.20px;height:8.75px;line-height:8.75px">6</div>
<div class="c" style="left:68.60px;top:463.36px;width:29.90px;height:8.75px;line-height:8.75px">1</div>
<div class="c cb" style="left:98.50px;top:463.36px;width:125.00px;height:8.75px;line-height:8.75px">1-BEDROOM + STUDY</div>
<div class="c cb" style="left:223.50px;top:463.36px;width:56.30px;height:8.75px;line-height:8.75px">TYPE AS2</div>
<div class="c" style="left:279.80px;top:463.36px;width:55.70px;height:8.75px;line-height:8.75px">7</div>
<div class="c" style="left:440.50px;top:463.36px;width:57.00px;height:8.75px;line-height:8.75px">45</div>
<div class="c" style="left:497.50px;top:463.36px;width:72.30px;height:8.75px;line-height:8.75px">484</div>
<div class="c" style="left:38.40px;top:472.11px;width:30.20px;height:8.75px;line-height:8.75px">7</div>
<div class="c" style="left:68.60px;top:472.11px;width:29.90px;height:8.75px;line-height:8.75px">1</div>
<div class="c cb" style="left:98.50px;top:472.11px;width:125.00px;height:8.75px;line-height:8.75px">1-BEDROOM + STUDY</div>
<div class="c cb" style="left:223.50px;top:472.11px;width:56.30px;height:8.75px;line-height:8.75px">TYPE AS2(p)</div>
<div class="c" style="left:279.80px;top:472.11px;width:55.70px;height:8.75px;line-height:8.75px">1</div>
<div class="c" style="left:440.50px;top:472.11px;width:57.00px;height:8.75px;line-height:8.75px">45</div>
<div class="c" style="left:497.50px;top:472.11px;width:72.30px;height:8.75px;line-height:8.75px">484</div>
<div class="c" style="left:38.40px;top:480.87px;width:30.20px;height:8.75px;line-height:8.75px">8</div>
<div class="c" style="left:68.60px;top:480.87px;width:29.90px;height:8.75px;line-height:8.75px">1</div>
<div class="c cb" style="left:98.50px;top:480.87px;width:125.00px;height:8.75px;line-height:8.75px">1-BEDROOM + STUDY (SF)</div>
<div class="c cb" style="left:223.50px;top:480.87px;width:56.30px;height:8.75px;line-height:8.75px">TYPE AS2a</div>
<div class="c" style="left:279.80px;top:480.87px;width:55.70px;height:8.75px;line-height:8.75px">34</div>
<div class="c" style="left:440.50px;top:480.87px;width:57.00px;height:8.75px;line-height:8.75px">50</div>
<div class="c" style="left:497.50px;top:480.87px;width:72.30px;height:8.75px;line-height:8.75px">538</div>
<div class="c" style="left:38.40px;top:489.62px;width:30.20px;height:8.75px;line-height:8.75px">9</div>
<div class="c" style="left:68.60px;top:489.62px;width:29.90px;height:8.75px;line-height:8.75px">1</div>
<div class="c cb" style="left:98.50px;top:489.62px;width:125.00px;height:8.75px;line-height:8.75px">1-BEDROOM + STUDY</div>
<div class="c cb" style="left:223.50px;top:489.62px;width:56.30px;height:8.75px;line-height:8.75px">TYPE AS2a(p)</div>
<div class="c" style="left:279.80px;top:489.62px;width:55.70px;height:8.75px;line-height:8.75px">1</div>
<div class="c" style="left:440.50px;top:489.62px;width:57.00px;height:8.75px;line-height:8.75px">50</div>
<div class="c" style="left:497.50px;top:489.62px;width:72.30px;height:8.75px;line-height:8.75px">538</div>
<div class="c" style="left:38.40px;top:498.38px;width:30.20px;height:8.75px;line-height:8.75px">10</div>
<div class="c" style="left:68.60px;top:498.38px;width:29.90px;height:8.75px;line-height:8.75px">5</div>
<div class="c cb" style="left:98.50px;top:498.38px;width:125.00px;height:8.75px;line-height:8.75px">1-BEDROOM + STUDY</div>
<div class="c cb" style="left:223.50px;top:498.38px;width:56.30px;height:8.75px;line-height:8.75px">TYPE AS2b</div>
<div class="c" style="left:279.80px;top:498.38px;width:55.70px;height:8.75px;line-height:8.75px">20</div>
<div class="c" style="left:440.50px;top:498.38px;width:57.00px;height:8.75px;line-height:8.75px">50</div>
<div class="c" style="left:497.50px;top:498.38px;width:72.30px;height:8.75px;line-height:8.75px">538</div>
<div class="c" style="left:38.40px;top:507.13px;width:30.20px;height:8.75px;line-height:8.75px">11</div>
<div class="c" style="left:68.60px;top:507.13px;width:29.90px;height:8.75px;line-height:8.75px">5</div>
<div class="c cb" style="left:98.50px;top:507.13px;width:125.00px;height:8.75px;line-height:8.75px">1-BEDROOM + STUDY</div>
<div class="c cb" style="left:223.50px;top:507.13px;width:56.30px;height:8.75px;line-height:8.75px">TYPE AS2c</div>
<div class="c" style="left:279.80px;top:507.13px;width:55.70px;height:8.75px;line-height:8.75px">20</div>
<div class="c" style="left:440.50px;top:507.13px;width:57.00px;height:8.75px;line-height:8.75px">50</div>
<div class="c" style="left:497.50px;top:507.13px;width:72.30px;height:8.75px;line-height:8.75px">538</div>
<div class="c" style="left:38.40px;top:515.88px;width:30.20px;height:8.75px;line-height:8.75px">12</div>
<div class="c" style="left:68.60px;top:515.88px;width:29.90px;height:8.75px;line-height:8.75px">1</div>
<div class="c cb" style="left:98.50px;top:515.88px;width:125.00px;height:8.75px;line-height:8.75px">1-BEDROOM + STUDY</div>
<div class="c cb" style="left:223.50px;top:515.88px;width:56.30px;height:8.75px;line-height:8.75px">TYPE AS3</div>
<div class="c" style="left:279.80px;top:515.88px;width:55.70px;height:8.75px;line-height:8.75px">7</div>
<div class="c" style="left:440.50px;top:515.88px;width:57.00px;height:8.75px;line-height:8.75px">45</div>
<div class="c" style="left:497.50px;top:515.88px;width:72.30px;height:8.75px;line-height:8.75px">484</div>
<div class="c" style="left:38.40px;top:524.64px;width:30.20px;height:8.75px;line-height:8.75px">13</div>
<div class="c" style="left:68.60px;top:524.64px;width:29.90px;height:8.75px;line-height:8.75px">1</div>
<div class="c cb" style="left:98.50px;top:524.64px;width:125.00px;height:8.75px;line-height:8.75px">1-BEDROOM + STUDY</div>
<div class="c cb" style="left:223.50px;top:524.64px;width:56.30px;height:8.75px;line-height:8.75px">TYPE AS3(p)</div>
<div class="c" style="left:279.80px;top:524.64px;width:55.70px;height:8.75px;line-height:8.75px">1</div>
<div class="c" style="left:440.50px;top:524.64px;width:57.00px;height:8.75px;line-height:8.75px">45</div>
<div class="c" style="left:497.50px;top:524.64px;width:72.30px;height:8.75px;line-height:8.75px">484</div>
<div class="c" style="left:38.40px;top:533.39px;width:30.20px;height:8.75px;line-height:8.75px">14</div>
<div class="c" style="left:68.60px;top:533.39px;width:29.90px;height:8.75px;line-height:8.75px">1</div>
<div class="c cb" style="left:98.50px;top:533.39px;width:125.00px;height:8.75px;line-height:8.75px">1-BEDROOM + STUDY</div>
<div class="c cb" style="left:223.50px;top:533.39px;width:56.30px;height:8.75px;line-height:8.75px">TYPE AS3a</div>
<div class="c" style="left:279.80px;top:533.39px;width:55.70px;height:8.75px;line-height:8.75px">34</div>
<div class="c" style="left:440.50px;top:533.39px;width:57.00px;height:8.75px;line-height:8.75px">51</div>
<div class="c" style="left:497.50px;top:533.39px;width:72.30px;height:8.75px;line-height:8.75px">549</div>
<div class="c" style="left:38.40px;top:542.15px;width:30.20px;height:8.75px;line-height:8.75px">15</div>
<div class="c" style="left:68.60px;top:542.15px;width:29.90px;height:8.75px;line-height:8.75px">1</div>
<div class="c cb" style="left:98.50px;top:542.15px;width:125.00px;height:8.75px;line-height:8.75px">1-BEDROOM + STUDY</div>
<div class="c cb" style="left:223.50px;top:542.15px;width:56.30px;height:8.75px;line-height:8.75px">TYPE AS3a(p)</div>
<div class="c" style="left:279.80px;top:542.15px;width:55.70px;height:8.75px;line-height:8.75px">1</div>
<div class="c" style="left:440.50px;top:542.15px;width:57.00px;height:8.75px;line-height:8.75px">51</div>
<div class="c" style="left:497.50px;top:542.15px;width:72.30px;height:8.75px;line-height:8.75px">549</div>
<div class="c" style="left:38.40px;top:550.90px;width:30.20px;height:8.75px;line-height:8.75px">16</div>
<div class="c" style="left:68.60px;top:550.90px;width:29.90px;height:8.75px;line-height:8.75px">1</div>
<div class="c cb" style="left:98.50px;top:550.90px;width:125.00px;height:8.75px;line-height:8.75px">1-BEDROOM + STUDY</div>
<div class="c cb" style="left:223.50px;top:550.90px;width:56.30px;height:8.75px;line-height:8.75px">TYPE AS4</div>
<div class="c" style="left:279.80px;top:550.90px;width:55.70px;height:8.75px;line-height:8.75px">2</div>
<div class="c" style="left:440.50px;top:550.90px;width:57.00px;height:8.75px;line-height:8.75px">47</div>
<div class="c" style="left:497.50px;top:550.90px;width:72.30px;height:8.75px;line-height:8.75px">506</div>
<div class="c" style="left:38.40px;top:559.65px;width:30.20px;height:8.75px;line-height:8.75px">17</div>
<div class="c" style="left:68.60px;top:559.65px;width:29.90px;height:8.75px;line-height:8.75px">1</div>
<div class="c cb" style="left:98.50px;top:559.65px;width:125.00px;height:8.75px;line-height:8.75px">1-BEDROOM + STUDY</div>
<div class="c cb" style="left:223.50px;top:559.65px;width:56.30px;height:8.75px;line-height:8.75px">TYPE AS4(p)</div>
<div class="c" style="left:279.80px;top:559.65px;width:55.70px;height:8.75px;line-height:8.75px">1</div>
<div class="c" style="left:440.50px;top:559.65px;width:57.00px;height:8.75px;line-height:8.75px">47</div>
<div class="c" style="left:497.50px;top:559.65px;width:72.30px;height:8.75px;line-height:8.75px">506</div>
<div class="c" style="left:38.40px;top:568.41px;width:30.20px;height:8.75px;line-height:8.75px">18</div>
<div class="c" style="left:68.60px;top:568.41px;width:29.90px;height:8.75px;line-height:8.75px">1</div>
<div class="c cb" style="left:98.50px;top:568.41px;width:125.00px;height:8.75px;line-height:8.75px">1-BEDROOM + STUDY</div>
<div class="c cb" style="left:223.50px;top:568.41px;width:56.30px;height:8.75px;line-height:8.75px">TYPE AS5</div>
<div class="c" style="left:279.80px;top:568.41px;width:55.70px;height:8.75px;line-height:8.75px">20</div>
<div class="c" style="left:440.50px;top:568.41px;width:57.00px;height:8.75px;line-height:8.75px">47</div>
<div class="c" style="left:497.50px;top:568.41px;width:72.30px;height:8.75px;line-height:8.75px">506</div>
<div class="c" style="left:38.40px;top:577.16px;width:30.20px;height:8.75px;line-height:8.75px">19</div>
<div class="c" style="left:68.60px;top:577.16px;width:29.90px;height:8.75px;line-height:8.75px">5</div>
<div class="c cb" style="left:98.50px;top:577.16px;width:125.00px;height:8.75px;line-height:8.75px">1-BEDROOM + STUDY</div>
<div class="c cb" style="left:223.50px;top:577.16px;width:56.30px;height:8.75px;line-height:8.75px">TYPE AS6</div>
<div class="c" style="left:279.80px;top:577.16px;width:55.70px;height:8.75px;line-height:8.75px">20</div>
<div class="c" style="left:440.50px;top:577.16px;width:57.00px;height:8.75px;line-height:8.75px">47</div>
<div class="c" style="left:497.50px;top:577.16px;width:72.30px;height:8.75px;line-height:8.75px">506</div>
<div class="c" style="left:38.40px;top:585.92px;width:30.20px;height:8.75px;line-height:8.75px">20</div>
<div class="c" style="left:68.60px;top:585.92px;width:29.90px;height:8.75px;line-height:8.75px">1</div>
<div class="c cb" style="left:98.50px;top:585.92px;width:125.00px;height:8.75px;line-height:8.75px">1-BEDROOM + STUDY</div>
<div class="c cb" style="left:223.50px;top:585.92px;width:56.30px;height:8.75px;line-height:8.75px">TYPE AS7</div>
<div class="c" style="left:279.80px;top:585.92px;width:55.70px;height:8.75px;line-height:8.75px">20</div>
<div class="c" style="left:440.50px;top:585.92px;width:57.00px;height:8.75px;line-height:8.75px">50</div>
<div class="c" style="left:497.50px;top:585.92px;width:72.30px;height:8.75px;line-height:8.75px">538</div>
<div class="c" style="left:38.40px;top:594.67px;width:30.20px;height:8.75px;line-height:8.75px">21</div>
<div class="c" style="left:68.60px;top:594.67px;width:29.90px;height:8.75px;line-height:8.75px">5</div>
<div class="c cb" style="left:98.50px;top:594.67px;width:125.00px;height:8.75px;line-height:8.75px">1-BEDROOM + STUDY</div>
<div class="c cb" style="left:223.50px;top:594.67px;width:56.30px;height:8.75px;line-height:8.75px">TYPE AS8</div>
<div class="c" style="left:279.80px;top:594.67px;width:55.70px;height:8.75px;line-height:8.75px">20</div>
<div class="c" style="left:440.50px;top:594.67px;width:57.00px;height:8.75px;line-height:8.75px">52</div>
<div class="c" style="left:497.50px;top:594.67px;width:72.30px;height:8.75px;line-height:8.75px">560</div>
<div class="c" style="left:38.40px;top:603.42px;width:30.20px;height:8.75px;line-height:8.75px">22</div>
<div class="c" style="left:68.60px;top:603.42px;width:29.90px;height:8.75px;line-height:8.75px">1</div>
<div class="c cb" style="left:98.50px;top:603.42px;width:125.00px;height:8.75px;line-height:8.75px">2-BEDROOM</div>
<div class="c cb" style="left:223.50px;top:603.42px;width:56.30px;height:8.75px;line-height:8.75px">TYPE B1</div>
<div class="c" style="left:279.80px;top:603.42px;width:55.70px;height:8.75px;line-height:8.75px">20</div>
<div class="c" style="left:440.50px;top:603.42px;width:57.00px;height:8.75px;line-height:8.75px">68</div>
<div class="c" style="left:497.50px;top:603.42px;width:72.30px;height:8.75px;line-height:8.75px">732</div>
<div class="c" style="left:38.40px;top:612.18px;width:30.20px;height:8.75px;line-height:8.75px">23</div>
<div class="c" style="left:68.60px;top:612.18px;width:29.90px;height:8.75px;line-height:8.75px">1</div>
<div class="c cb" style="left:98.50px;top:612.18px;width:125.00px;height:8.75px;line-height:8.75px">2-BEDROOM + ENSUITE STUDY</div>
<div class="c cb" style="left:223.50px;top:612.18px;width:56.30px;height:8.75px;line-height:8.75px">TYPE B1(S)</div>
<div class="c" style="left:279.80px;top:612.18px;width:55.70px;height:8.75px;line-height:8.75px">20</div>
<div class="c" style="left:440.50px;top:612.18px;width:57.00px;height:8.75px;line-height:8.75px">77</div>
<div class="c" style="left:497.50px;top:612.18px;width:72.30px;height:8.75px;line-height:8.75px">829</div>
<div class="c" style="left:38.40px;top:620.93px;width:30.20px;height:8.75px;line-height:8.75px">24</div>
<div class="c" style="left:68.60px;top:620.93px;width:29.90px;height:8.75px;line-height:8.75px">1</div>
<div class="c cb" style="left:98.50px;top:620.93px;width:125.00px;height:8.75px;line-height:8.75px">2-BEDROOM + STUDY</div>
<div class="c cb" style="left:223.50px;top:620.93px;width:56.30px;height:8.75px;line-height:8.75px">TYPE BS1</div>
<div class="c" style="left:279.80px;top:620.93px;width:55.70px;height:8.75px;line-height:8.75px">5</div>
<div class="c" style="left:440.50px;top:620.93px;width:57.00px;height:8.75px;line-height:8.75px">68</div>
<div class="c" style="left:497.50px;top:620.93px;width:72.30px;height:8.75px;line-height:8.75px">732</div>
<div class="c" style="left:38.40px;top:629.69px;width:30.20px;height:8.75px;line-height:8.75px">25</div>
<div class="c" style="left:68.60px;top:629.69px;width:29.90px;height:8.75px;line-height:8.75px">1</div>
<div class="c cb" style="left:98.50px;top:629.69px;width:125.00px;height:8.75px;line-height:8.75px">2-BEDROOM + STUDY</div>
<div class="c cb" style="left:223.50px;top:629.69px;width:56.30px;height:8.75px;line-height:8.75px">TYPE BS1a</div>
<div class="c" style="left:279.80px;top:629.69px;width:55.70px;height:8.75px;line-height:8.75px">34</div>
<div class="c" style="left:440.50px;top:629.69px;width:57.00px;height:8.75px;line-height:8.75px">76</div>
<div class="c" style="left:497.50px;top:629.69px;width:72.30px;height:8.75px;line-height:8.75px">818</div>
<div class="c" style="left:38.40px;top:638.44px;width:30.20px;height:8.75px;line-height:8.75px">26</div>
<div class="c" style="left:68.60px;top:638.44px;width:29.90px;height:8.75px;line-height:8.75px">1</div>
<div class="c cb" style="left:98.50px;top:638.44px;width:125.00px;height:8.75px;line-height:8.75px">2-BEDROOM + STUDY</div>
<div class="c cb" style="left:223.50px;top:638.44px;width:56.30px;height:8.75px;line-height:8.75px">TYPE BS1a(p)</div>
<div class="c" style="left:279.80px;top:638.44px;width:55.70px;height:8.75px;line-height:8.75px">1</div>
<div class="c" style="left:440.50px;top:638.44px;width:57.00px;height:8.75px;line-height:8.75px">76</div>
<div class="c" style="left:497.50px;top:638.44px;width:72.30px;height:8.75px;line-height:8.75px">818</div>
<div class="c" style="left:38.40px;top:647.19px;width:30.20px;height:8.75px;line-height:8.75px">27</div>
<div class="c" style="left:68.60px;top:647.19px;width:29.90px;height:8.75px;line-height:8.75px">1</div>
<div class="c cb" style="left:98.50px;top:647.19px;width:125.00px;height:8.75px;line-height:8.75px">2-BEDROOM + STUDY</div>
<div class="c cb" style="left:223.50px;top:647.19px;width:56.30px;height:8.75px;line-height:8.75px">TYPE BS2</div>
<div class="c" style="left:279.80px;top:647.19px;width:55.70px;height:8.75px;line-height:8.75px">7</div>
<div class="c" style="left:440.50px;top:647.19px;width:57.00px;height:8.75px;line-height:8.75px">74</div>
<div class="c" style="left:497.50px;top:647.19px;width:72.30px;height:8.75px;line-height:8.75px">797</div>
<div class="c" style="left:38.40px;top:655.95px;width:30.20px;height:8.75px;line-height:8.75px">28</div>
<div class="c" style="left:68.60px;top:655.95px;width:29.90px;height:8.75px;line-height:8.75px">1</div>
<div class="c cb" style="left:98.50px;top:655.95px;width:125.00px;height:8.75px;line-height:8.75px">2-BEDROOM + STUDY</div>
<div class="c cb" style="left:223.50px;top:655.95px;width:56.30px;height:8.75px;line-height:8.75px">TYPE BS2(p)</div>
<div class="c" style="left:279.80px;top:655.95px;width:55.70px;height:8.75px;line-height:8.75px">1</div>
<div class="c" style="left:440.50px;top:655.95px;width:57.00px;height:8.75px;line-height:8.75px">74</div>
<div class="c" style="left:497.50px;top:655.95px;width:72.30px;height:8.75px;line-height:8.75px">797</div>
<div class="c" style="left:38.40px;top:664.70px;width:30.20px;height:8.75px;line-height:8.75px">29</div>
<div class="c" style="left:68.60px;top:664.70px;width:29.90px;height:8.75px;line-height:8.75px">1</div>
<div class="c cb" style="left:98.50px;top:664.70px;width:125.00px;height:8.75px;line-height:8.75px">2-BEDROOM + STUDY</div>
<div class="c cb" style="left:223.50px;top:664.70px;width:56.30px;height:8.75px;line-height:8.75px">TYPE BS2a</div>
<div class="c" style="left:279.80px;top:664.70px;width:55.70px;height:8.75px;line-height:8.75px">34</div>
<div class="c" style="left:440.50px;top:664.70px;width:57.00px;height:8.75px;line-height:8.75px">77</div>
<div class="c" style="left:497.50px;top:664.70px;width:72.30px;height:8.75px;line-height:8.75px">829</div>
<div class="c" style="left:38.40px;top:673.46px;width:30.20px;height:8.75px;line-height:8.75px">30</div>
<div class="c" style="left:68.60px;top:673.46px;width:29.90px;height:8.75px;line-height:8.75px">1</div>
<div class="c cb" style="left:98.50px;top:673.46px;width:125.00px;height:8.75px;line-height:8.75px">2-BEDROOM + STUDY</div>
<div class="c cb" style="left:223.50px;top:673.46px;width:56.30px;height:8.75px;line-height:8.75px">TYPE BS2a(p)</div>
<div class="c" style="left:279.80px;top:673.46px;width:55.70px;height:8.75px;line-height:8.75px">1</div>
<div class="c" style="left:440.50px;top:673.46px;width:57.00px;height:8.75px;line-height:8.75px">77</div>
<div class="c" style="left:497.50px;top:673.46px;width:72.30px;height:8.75px;line-height:8.75px">829</div>
<div class="c" style="left:38.40px;top:682.21px;width:30.20px;height:8.75px;line-height:8.75px">31</div>
<div class="c" style="left:68.60px;top:682.21px;width:29.90px;height:8.75px;line-height:8.75px">5</div>
<div class="c cb" style="left:98.50px;top:682.21px;width:125.00px;height:8.75px;line-height:8.75px">2-BEDROOM + STUDY</div>
<div class="c cb" style="left:223.50px;top:682.21px;width:56.30px;height:8.75px;line-height:8.75px">TYPE BS3</div>
<div class="c" style="left:279.80px;top:682.21px;width:55.70px;height:8.75px;line-height:8.75px">20</div>
<div class="c" style="left:440.50px;top:682.21px;width:57.00px;height:8.75px;line-height:8.75px">75</div>
<div class="c" style="left:497.50px;top:682.21px;width:72.30px;height:8.75px;line-height:8.75px">807</div>
<div class="c" style="left:38.40px;top:690.96px;width:30.20px;height:8.75px;line-height:8.75px">32</div>
<div class="c" style="left:68.60px;top:690.96px;width:29.90px;height:8.75px;line-height:8.75px">5</div>
<div class="c cb" style="left:98.50px;top:690.96px;width:125.00px;height:8.75px;line-height:8.75px">2-BEDROOM + STUDY</div>
<div class="c cb" style="left:223.50px;top:690.96px;width:56.30px;height:8.75px;line-height:8.75px">TYPE BS4</div>
<div class="c" style="left:279.80px;top:690.96px;width:55.70px;height:8.75px;line-height:8.75px">20</div>
<div class="c" style="left:440.50px;top:690.96px;width:57.00px;height:8.75px;line-height:8.75px">75</div>
<div class="c" style="left:497.50px;top:690.96px;width:72.30px;height:8.75px;line-height:8.75px">807</div>
<div class="c" style="left:38.40px;top:699.72px;width:30.20px;height:8.75px;line-height:8.75px">33</div>
<div class="c" style="left:68.60px;top:699.72px;width:29.90px;height:8.75px;line-height:8.75px">5</div>
<div class="c cb" style="left:98.50px;top:699.72px;width:125.00px;height:8.75px;line-height:8.75px">2-BEDROOM + STUDY (SF)</div>
<div class="c cb" style="left:223.50px;top:699.72px;width:56.30px;height:8.75px;line-height:8.75px">TYPE BS5</div>
<div class="c" style="left:279.80px;top:699.72px;width:55.70px;height:8.75px;line-height:8.75px">20</div>
<div class="c" style="left:440.50px;top:699.72px;width:57.00px;height:8.75px;line-height:8.75px">80</div>
<div class="c" style="left:497.50px;top:699.72px;width:72.30px;height:8.75px;line-height:8.75px">861</div>
<div class="c" style="left:38.40px;top:708.47px;width:30.20px;height:8.75px;line-height:8.75px">34</div>
<div class="c" style="left:68.60px;top:708.47px;width:29.90px;height:8.75px;line-height:8.75px">5</div>
<div class="c cb" style="left:98.50px;top:708.47px;width:125.00px;height:8.75px;line-height:8.75px">2-BEDROOM + STUDY</div>
<div class="c cb" style="left:223.50px;top:708.47px;width:56.30px;height:8.75px;line-height:8.75px">TYPE BS6</div>
<div class="c" style="left:279.80px;top:708.47px;width:55.70px;height:8.75px;line-height:8.75px">20</div>
<div class="c" style="left:440.50px;top:708.47px;width:57.00px;height:8.75px;line-height:8.75px">82</div>
<div class="c" style="left:497.50px;top:708.47px;width:72.30px;height:8.75px;line-height:8.75px">883</div>
<div class="c" style="left:38.40px;top:717.23px;width:30.20px;height:8.75px;line-height:8.75px">35</div>
<div class="c" style="left:68.60px;top:717.23px;width:29.90px;height:8.75px;line-height:8.75px">1</div>
<div class="c cb" style="left:98.50px;top:717.23px;width:125.00px;height:8.75px;line-height:8.75px">3-BEDROOM</div>
<div class="c cb" style="left:223.50px;top:717.23px;width:56.30px;height:8.75px;line-height:8.75px">TYPE C1</div>
<div class="c" style="left:279.80px;top:717.23px;width:55.70px;height:8.75px;line-height:8.75px">5</div>
<div class="c" style="left:440.50px;top:717.23px;width:57.00px;height:8.75px;line-height:8.75px">83</div>
<div class="c" style="left:497.50px;top:717.23px;width:72.30px;height:8.75px;line-height:8.75px">893</div>
<div class="c" style="left:38.40px;top:725.98px;width:30.20px;height:8.75px;line-height:8.75px">36</div>
<div class="c" style="left:68.60px;top:725.98px;width:29.90px;height:8.75px;line-height:8.75px">1</div>
<div class="c cb" style="left:98.50px;top:725.98px;width:125.00px;height:8.75px;line-height:8.75px">3-BEDROOM</div>
<div class="c cb" style="left:223.50px;top:725.98px;width:56.30px;height:8.75px;line-height:8.75px">TYPE C1a</div>
<div class="c" style="left:279.80px;top:725.98px;width:55.70px;height:8.75px;line-height:8.75px">15</div>
<div class="c" style="left:440.50px;top:725.98px;width:57.00px;height:8.75px;line-height:8.75px">88</div>
<div class="c" style="left:497.50px;top:725.98px;width:72.30px;height:8.75px;line-height:8.75px">947</div>
<div class="c" style="left:38.40px;top:734.73px;width:30.20px;height:8.65px;line-height:8.65px">37</div>
<div class="c" style="left:68.60px;top:734.73px;width:29.90px;height:8.65px;line-height:8.65px">5</div>
<div class="c cb" style="left:98.50px;top:734.73px;width:125.00px;height:8.65px;line-height:8.65px">3-BEDROOM</div>
<div class="c cb" style="left:223.50px;top:734.73px;width:56.30px;height:8.65px;line-height:8.65px">TYPE C2</div>
<div class="c" style="left:279.80px;top:734.73px;width:55.70px;height:8.65px;line-height:8.65px">20</div>
<div class="c" style="left:440.50px;top:734.73px;width:57.00px;height:8.65px;line-height:8.65px">105</div>
<div class="c" style="left:497.50px;top:734.73px;width:72.30px;height:8.65px;line-height:8.65px">1130</div>
<div class="c" style="left:38.40px;top:743.38px;width:30.20px;height:8.63px;line-height:8.63px">38</div>
<div class="c" style="left:68.60px;top:743.38px;width:29.90px;height:8.63px;line-height:8.63px">5</div>
<div class="c cb" style="left:98.50px;top:743.38px;width:125.00px;height:8.63px;line-height:8.63px">3-BEDROOM</div>
<div class="c cb" style="left:223.50px;top:743.38px;width:56.30px;height:8.63px;line-height:8.63px">TYPE C3</div>
<div class="c" style="left:279.80px;top:743.38px;width:55.70px;height:8.63px;line-height:8.63px">20</div>
<div class="c" style="left:440.50px;top:743.38px;width:57.00px;height:8.63px;line-height:8.63px">117</div>
<div class="c" style="left:497.50px;top:743.38px;width:72.30px;height:8.63px;line-height:8.63px">1259</div>
<div class="c" style="left:38.40px;top:752.02px;width:30.20px;height:8.63px;line-height:8.63px">39</div>
<div class="c" style="left:68.60px;top:752.02px;width:29.90px;height:8.63px;line-height:8.63px">5</div>
<div class="c cb" style="left:98.50px;top:752.02px;width:125.00px;height:8.63px;line-height:8.63px">3-BEDROOM PREMIUM (SF)</div>
<div class="c cb" style="left:223.50px;top:752.02px;width:56.30px;height:8.63px;line-height:8.63px">TYPE CP1</div>
<div class="c" style="left:279.80px;top:752.02px;width:55.70px;height:8.63px;line-height:8.63px">20</div>
<div class="c" style="left:440.50px;top:752.02px;width:57.00px;height:8.63px;line-height:8.63px">122</div>
<div class="c" style="left:497.50px;top:752.02px;width:72.30px;height:8.63px;line-height:8.63px">1313</div>
<div class="c" style="left:38.40px;top:760.65px;width:30.20px;height:8.63px;line-height:8.63px">40</div>
<div class="c" style="left:68.60px;top:760.65px;width:29.90px;height:8.63px;line-height:8.63px">1</div>
<div class="c cb" style="left:98.50px;top:760.65px;width:125.00px;height:8.63px;line-height:8.63px">4-BEDROOM PREMIUM (SF)</div>
<div class="c cb" style="left:223.50px;top:760.65px;width:56.30px;height:8.63px;line-height:8.63px">TYPE DP1</div>
<div class="c" style="left:279.80px;top:760.65px;width:55.70px;height:8.63px;line-height:8.63px">20</div>
<div class="c" style="left:440.50px;top:760.65px;width:57.00px;height:8.63px;line-height:8.63px">163</div>
<div class="c" style="left:497.50px;top:760.65px;width:72.30px;height:8.63px;line-height:8.63px">1755</div>
<div class="c" style="left:38.40px;top:769.28px;width:30.20px;height:8.63px;line-height:8.63px">41</div>
<div class="c" style="left:68.60px;top:769.28px;width:29.90px;height:8.63px;line-height:8.63px">1</div>
<div class="c cb" style="left:98.50px;top:769.28px;width:125.00px;height:8.63px;line-height:8.63px">4-BEDROOM PREMIUM</div>
<div class="c cb" style="left:223.50px;top:769.28px;width:56.30px;height:8.63px;line-height:8.63px">TYPE DP2</div>
<div class="c" style="left:279.80px;top:769.28px;width:55.70px;height:8.63px;line-height:8.63px">19</div>
<div class="c" style="left:440.50px;top:769.28px;width:57.00px;height:8.63px;line-height:8.63px">181</div>
<div class="c" style="left:497.50px;top:769.28px;width:72.30px;height:8.63px;line-height:8.63px">1948</div>
<div class="c" style="left:38.40px;top:777.91px;width:30.20px;height:8.63px;line-height:8.63px">42</div>
<div class="c" style="left:68.60px;top:777.91px;width:29.90px;height:8.63px;line-height:8.63px">1</div>
<div class="c cb" style="left:98.50px;top:777.91px;width:125.00px;height:8.63px;line-height:8.63px">4-BEDROOM PREMIUM</div>
<div class="c cb" style="left:223.50px;top:777.91px;width:56.30px;height:8.63px;line-height:8.63px">TYPE DP2(p)</div>
<div class="c" style="left:279.80px;top:777.91px;width:55.70px;height:8.63px;line-height:8.63px">1</div>
<div class="c" style="left:440.50px;top:777.91px;width:57.00px;height:8.63px;line-height:8.63px">181</div>
<div class="c" style="left:497.50px;top:777.91px;width:72.30px;height:8.63px;line-height:8.63px">1948</div>
<div class="c" style="left:38.40px;top:786.55px;width:30.20px;height:8.63px;line-height:8.63px">43</div>
<div class="c" style="left:68.60px;top:786.55px;width:29.90px;height:8.63px;line-height:8.63px">1</div>
<div class="c cb" style="left:98.50px;top:786.55px;width:125.00px;height:8.63px;line-height:8.63px">4-BEDROOM PREMIUM</div>
<div class="c cb" style="left:223.50px;top:786.55px;width:56.30px;height:8.63px;line-height:8.63px">TYPE DP3</div>
<div class="c" style="left:279.80px;top:786.55px;width:55.70px;height:8.63px;line-height:8.63px">19</div>
<div class="c" style="left:440.50px;top:786.55px;width:57.00px;height:8.63px;line-height:8.63px">182</div>
<div class="c" style="left:497.50px;top:786.55px;width:72.30px;height:8.63px;line-height:8.63px">1959</div>
<div class="c" style="left:38.40px;top:795.18px;width:30.20px;height:8.63px;line-height:8.63px">44</div>
<div class="c" style="left:68.60px;top:795.18px;width:29.90px;height:8.63px;line-height:8.63px">1</div>
<div class="c cb" style="left:98.50px;top:795.18px;width:125.00px;height:8.63px;line-height:8.63px">4-BEDROOM PREMIUM</div>
<div class="c cb" style="left:223.50px;top:795.18px;width:56.30px;height:8.63px;line-height:8.63px">TYPE DP3(p)</div>
<div class="c" style="left:279.80px;top:795.18px;width:55.70px;height:8.63px;line-height:8.63px">1</div>
<div class="c" style="left:440.50px;top:795.18px;width:57.00px;height:8.63px;line-height:8.63px">182</div>
<div class="c" style="left:497.50px;top:795.18px;width:72.30px;height:8.63px;line-height:8.63px">1959</div>
<div class="c" style="left:38.40px;top:803.81px;width:30.20px;height:8.63px;line-height:8.63px">45</div>
<div class="c" style="left:68.60px;top:803.81px;width:29.90px;height:8.63px;line-height:8.63px">1</div>
<div class="c cb" style="left:98.50px;top:803.81px;width:125.00px;height:8.63px;line-height:8.63px">5-BEDROOM PREMIUM</div>
<div class="c cb" style="left:223.50px;top:803.81px;width:56.30px;height:8.63px;line-height:8.63px">TYPE EP1</div>
<div class="c" style="left:279.80px;top:803.81px;width:55.70px;height:8.63px;line-height:8.63px">20</div>
<div class="c" style="left:440.50px;top:803.81px;width:57.00px;height:8.63px;line-height:8.63px">259</div>
<div class="c" style="left:497.50px;top:803.81px;width:72.30px;height:8.63px;line-height:8.63px">2788</div>
<div class="c" style="left:38.40px;top:812.45px;width:30.20px;height:8.63px;line-height:8.63px">46</div>
<div class="c" style="left:68.60px;top:812.45px;width:29.90px;height:8.63px;line-height:8.63px">1</div>
<div class="c cb" style="left:98.50px;top:812.45px;width:125.00px;height:8.63px;line-height:8.63px">SKY SUITE</div>
<div class="c cb" style="left:223.50px;top:812.45px;width:56.30px;height:8.63px;line-height:8.63px">TYPE SS1</div>
<div class="c" style="left:279.80px;top:812.45px;width:55.70px;height:8.63px;line-height:8.63px">2</div>
<div class="c" style="left:440.50px;top:812.45px;width:57.00px;height:8.63px;line-height:8.63px">267</div>
<div class="c" style="left:497.50px;top:812.45px;width:72.30px;height:8.63px;line-height:8.63px">2874</div>
<div class="c" style="left:38.40px;top:821.08px;width:30.20px;height:8.63px;line-height:8.63px">47</div>
<div class="c" style="left:68.60px;top:821.08px;width:29.90px;height:8.63px;line-height:8.63px">1</div>
<div class="c cb" style="left:98.50px;top:821.08px;width:125.00px;height:8.63px;line-height:8.63px">SKY SUITE</div>
<div class="c cb" style="left:223.50px;top:821.08px;width:56.30px;height:8.63px;line-height:8.63px">TYPE SS2</div>
<div class="c" style="left:279.80px;top:821.08px;width:55.70px;height:8.63px;line-height:8.63px">2</div>
<div class="c" style="left:440.50px;top:821.08px;width:57.00px;height:8.63px;line-height:8.63px">369</div>
<div class="c" style="left:497.50px;top:821.08px;width:72.30px;height:8.63px;line-height:8.63px">3972</div>
<div class="c" style="left:38.40px;top:829.71px;width:30.20px;height:8.63px;line-height:8.63px">48</div>
<div class="c" style="left:68.60px;top:829.71px;width:29.90px;height:8.63px;line-height:8.63px">1</div>
<div class="c cb" style="left:98.50px;top:829.71px;width:125.00px;height:8.63px;line-height:8.63px">SUPER PENTHOUSE</div>
<div class="c cb" style="left:223.50px;top:829.71px;width:56.30px;height:8.63px;line-height:8.63px">TYPE PH</div>
<div class="c" style="left:279.80px;top:829.71px;width:55.70px;height:8.63px;line-height:8.63px">1</div>
<div class="c" style="left:440.50px;top:829.71px;width:57.00px;height:8.63px;line-height:8.63px">832</div>
<div class="c" style="left:497.50px;top:829.71px;width:72.30px;height:8.63px;line-height:8.63px">8956</div>
<div class="c" style="left:335.50px;top:419.24px;width:60.00px;height:35.02px;line-height:35.02px">99</div>
<div class="c" style="left:395.50px;top:419.24px;width:45.00px;height:35.02px;line-height:35.02px">14.2%</div>
<div class="c" style="left:335.50px;top:454.26px;width:60.00px;height:148.82px;line-height:148.82px">229</div>
<div class="c" style="left:395.50px;top:454.26px;width:45.00px;height:148.82px;line-height:148.82px">32.9%</div>
<div class="c" style="left:335.50px;top:603.07px;width:60.00px;height:8.75px;line-height:8.75px">20</div>
<div class="c" style="left:395.50px;top:603.07px;width:45.00px;height:8.75px;line-height:8.75px">2.9%</div>
<div class="c" style="left:335.50px;top:611.83px;width:60.00px;height:8.75px;line-height:8.75px">20</div>
<div class="c" style="left:395.50px;top:611.83px;width:45.00px;height:8.75px;line-height:8.75px">2.9%</div>
<div class="c" style="left:335.50px;top:620.58px;width:60.00px;height:96.29px;line-height:96.29px">163</div>
<div class="c" style="left:395.50px;top:620.58px;width:45.00px;height:96.29px;line-height:96.29px">23.4%</div>
<div class="c" style="left:335.50px;top:716.88px;width:60.00px;height:34.79px;line-height:34.79px">60</div>
<div class="c" style="left:395.50px;top:716.88px;width:45.00px;height:34.79px;line-height:34.79px">8.6%</div>
<div class="c" style="left:335.50px;top:751.67px;width:60.00px;height:8.63px;line-height:8.63px">20</div>
<div class="c" style="left:395.50px;top:751.67px;width:45.00px;height:8.63px;line-height:8.63px">2.9%</div>
<div class="c" style="left:335.50px;top:760.30px;width:60.00px;height:43.16px;line-height:43.16px">60</div>
<div class="c" style="left:395.50px;top:760.30px;width:45.00px;height:43.16px;line-height:43.16px">8.6%</div>
<div class="c" style="left:335.50px;top:803.46px;width:60.00px;height:8.63px;line-height:8.63px">20</div>
<div class="c" style="left:395.50px;top:803.46px;width:45.00px;height:8.63px;line-height:8.63px">2.9%</div>
<div class="c" style="left:335.50px;top:812.10px;width:60.00px;height:17.27px;line-height:17.27px">4</div>
<div class="c" style="left:395.50px;top:812.10px;width:45.00px;height:17.27px;line-height:17.27px">0.6%</div>
<div class="c" style="left:335.50px;top:829.36px;width:60.00px;height:8.63px;line-height:8.63px">1</div>
<div class="c" style="left:395.50px;top:829.36px;width:45.00px;height:8.63px;line-height:8.63px">0.1%</div>
<div class="ft" style="left:37.6px;top:840.6px;font-size:9.3px;transform:scaleX(0.957);transform-origin:0 0">6-Sep-2021</div>
<div class="ft" style="left:209.7px;top:840.6px;font-size:9.5px;transform:scaleX(0.975);transform-origin:0 0">Info as dated. May be subject to changes.</div>
<div class="ft" style="left:564.3px;top:840.6px;font-size:9.3px">4</div>
</body></html>
